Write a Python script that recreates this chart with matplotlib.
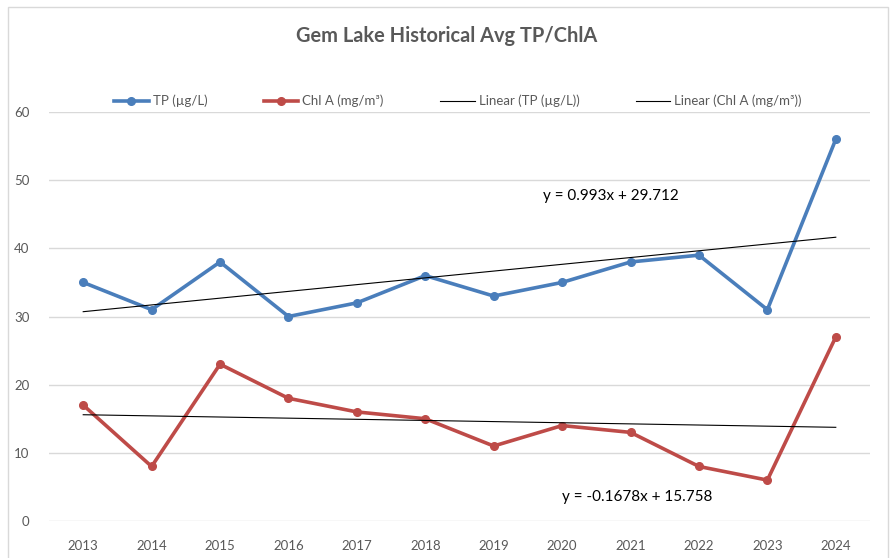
import numpy as np
import matplotlib
matplotlib.use("Agg")
from matplotlib import pyplot as plt
from matplotlib.patches import Rectangle

plt.rcParams['font.family'] = ['Lato', 'DejaVu Sans']

# Données
years = [2013, 2014, 2015, 2016, 2017, 2018, 2019, 2020, 2021, 2022, 2023, 2024]
tp = [35, 31, 38, 30, 32, 36, 33, 35, 38, 39, 31, 56]
chla = [17, 8, 23, 18, 16, 15, 11, 14, 13, 8, 6, 27]

gris = "#595959"
bleu = "#4a7ebb"
rouge = "#be4b48"

# Tendances linéaires (x = 1..n comme dans Excel)
idx = np.arange(1, len(years) + 1)
m_tp, b_tp = np.polyfit(idx, tp, 1)
m_chl, b_chl = np.polyfit(idx, chla, 1)

fig = plt.figure(figsize=(8.93, 5.58), dpi=100)
fig.patches.append(Rectangle((8 / 893, -0.05), 880 / 893, 1.05 - 7 / 558,
                             transform=fig.transFigure, fill=False,
                             edgecolor="#d9d9d9", linewidth=1))
ax = fig.add_axes([49 / 893, 1 - 521 / 558, 821 / 893, 409 / 558])

ax.plot(years, tp, "o-", color=bleu, linewidth=2.6, markersize=5.5, label="TP (µg/L)", zorder=3)
ax.plot(years, chla, "o-", color=rouge, linewidth=2.6, markersize=5.5, label="Chl A (mg/m³)", zorder=3)
ax.plot(years, np.polyval([m_tp, b_tp], idx), color="black", linewidth=0.8, label="Linear (TP (µg/L))", zorder=4)
ax.plot(years, np.polyval([m_chl, b_chl], idx), color="black", linewidth=0.8, label="Linear (Chl A (mg/m³))", zorder=4)

ax.text(2019.72, 47.65, f"y = {m_tp:.4g}x + {b_tp:.3f}", fontsize=11, color="black", ha="left", va="center")
ax.text(2020.0, 3.5, f"y = {m_chl:.4g}x + {b_chl:.3f}", fontsize=11, color="black", ha="left", va="center")

ax.set_xlim(2012.5, 2024.5)
ax.set_ylim(0, 60)
ax.set_xticks(years)
ax.set_yticks(range(0, 61, 10))
ax.tick_params(length=0, labelsize=9.5, labelcolor=gris)
ax.tick_params(axis="x", pad=14)
ax.tick_params(axis="y", pad=14)
ax.grid(axis="y", color="#d9d9d9", linewidth=1)
ax.set_axisbelow(True)
for s in ax.spines.values():
    s.set_visible(False)

fig.text(447 / 893, 1 - 36 / 558, "Gem Lake Historical Avg TP/ChlA", ha="center", va="center",
         fontsize=14.4, fontweight="bold", color=gris)
fig.legend(loc="center", bbox_to_anchor=(458 / 893, 1 - 101 / 558), ncol=4, frameon=False,
           fontsize=9.5, labelcolor=gris, handlelength=2.6, handletextpad=0.3, columnspacing=4.3)

fig.savefig("out.png", dpi=100)
